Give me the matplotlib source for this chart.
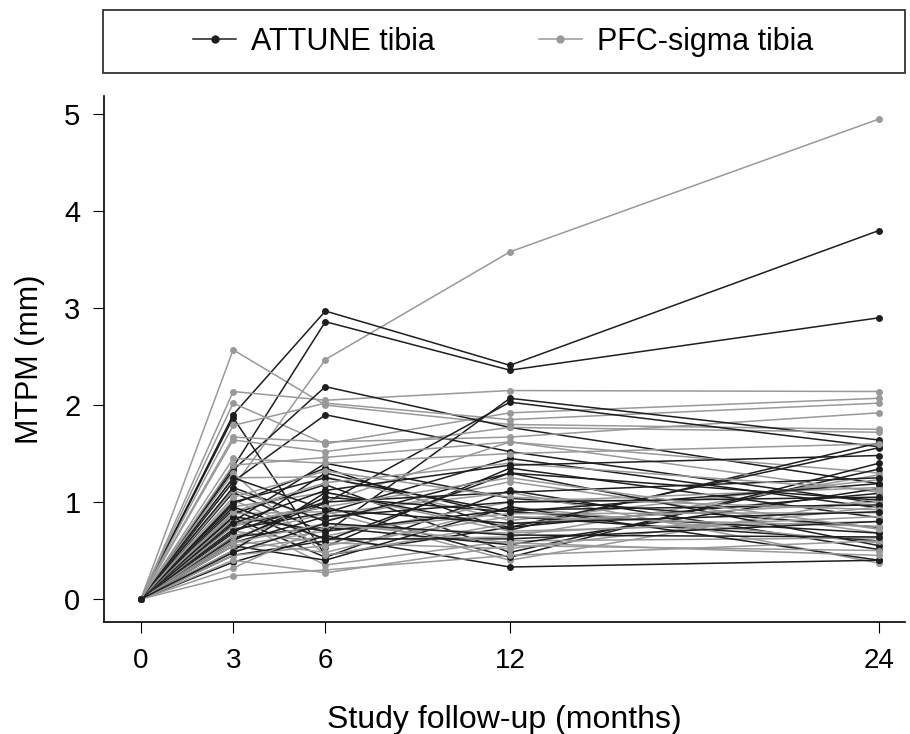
import matplotlib
matplotlib.use("Agg")
import matplotlib.pyplot as plt
from matplotlib.patches import Rectangle
from matplotlib.lines import Line2D

plt.rcParams['font.family'] = ['Liberation Sans', 'DejaVu Sans']

months = [0, 3, 6, 12, 24]
month_labels = ['0', '3', '6', '12', '24']
yticks = [0, 1, 2, 3, 4, 5]

# MTPM (mm) at 3, 6, 12, 24 months, one row per patient (0 at baseline)
attune = [
    [1.90, 2.97, 2.41, 3.80],
    [1.36, 2.86, 2.36, 2.90],
    [1.87, 0.45, 0.74, 1.09],
    [1.33, 2.19, 1.77, 1.19],
    [1.21, 1.90, 1.52, 0.99],
    [1.10, 0.68, 2.07, 1.64],
    [0.62, 0.99, 2.03, 1.57],
    [0.98, 1.35, 0.71, 1.61],
    [0.92, 0.54, 1.35, 0.84],
    [0.88, 1.18, 0.48, 1.34],
    [0.84, 0.43, 1.12, 0.51],
    [0.80, 1.40, 1.04, 0.74],
    [0.76, 0.95, 0.43, 1.40],
    [0.72, 0.89, 1.45, 0.94],
    [0.68, 1.30, 0.85, 0.60],
    [0.64, 0.74, 0.56, 1.14],
    [0.60, 1.05, 0.90, 0.68],
    [0.55, 0.40, 0.95, 0.40],
    [0.50, 1.10, 0.74, 1.56],
    [0.45, 0.60, 1.30, 0.55],
    [0.38, 0.65, 0.33, 0.40],
    [1.15, 0.80, 1.30, 1.02],
    [1.00, 1.25, 0.90, 1.19],
    [0.70, 1.00, 1.10, 1.25],
    [0.85, 0.70, 0.92, 0.97],
    [0.95, 0.62, 0.62, 0.80],
    [0.58, 0.85, 1.00, 1.05],
    [1.25, 0.92, 0.78, 0.90],
    [0.78, 1.12, 1.38, 1.48],
    [0.48, 0.78, 0.66, 0.64],
]

pfc = [
    [1.15, 2.47, 3.58, 4.95],
    [2.57, 2.00, 1.80, 1.75],
    [2.14, 2.05, 2.15, 2.14],
    [2.02, 1.60, 1.92, 2.07],
    [1.79, 2.02, 1.85, 2.02],
    [1.67, 1.62, 1.67, 1.92],
    [1.64, 1.52, 1.77, 1.72],
    [1.38, 1.46, 1.62, 1.30],
    [1.25, 1.26, 0.81, 1.23],
    [1.12, 0.81, 1.21, 0.68],
    [1.02, 0.61, 0.64, 1.28],
    [0.95, 1.10, 0.70, 0.80],
    [0.88, 0.90, 0.40, 1.04],
    [0.82, 0.35, 0.60, 0.63],
    [0.75, 1.00, 1.62, 1.10],
    [0.70, 0.58, 0.52, 0.95],
    [0.65, 0.88, 1.10, 0.37],
    [0.60, 0.48, 0.95, 0.58],
    [0.55, 0.70, 0.88, 0.89],
    [0.50, 0.65, 1.00, 1.15],
    [0.45, 0.55, 0.85, 0.75],
    [0.40, 0.27, 0.55, 0.50],
    [0.32, 0.75, 0.68, 0.85],
    [0.24, 0.30, 0.45, 0.60],
    [1.30, 0.45, 0.78, 1.00],
    [0.90, 1.20, 1.40, 1.12],
    [1.05, 1.32, 1.05, 0.92],
    [0.78, 0.95, 1.25, 0.72],
    [0.58, 0.78, 0.58, 0.45],
    [1.45, 1.40, 1.50, 1.60],
]

black = '#1e1e1e'
grey = '#999999'

fig = plt.figure(figsize=(9.1, 7.34), dpi=100)
ax = fig.add_axes([0.1143, 0.1526, 0.8802, 0.7164])

for a, p in zip(attune, pfc):
    ax.plot(months, [0] + p, color=grey, lw=1.1, marker='o', ms=5, mew=0)
    ax.plot(months, [0] + a, color=black, lw=1.1, marker='o', ms=5, mew=0)

ax.set_xlim(-1.2, 24.85)
ax.set_ylim(-0.237, 5.186)
ax.set_xticks(months)
ax.set_xticklabels(month_labels)
ax.set_yticks(yticks)
ax.spines['top'].set_visible(False)
ax.spines['right'].set_visible(False)
for s in ['left', 'bottom']:
    ax.spines[s].set_linewidth(1.2)
ax.tick_params(direction='out', length=8, width=0.8, labelsize=21, pad=9)
ax.tick_params(axis='x', labelsize=20, pad=11)
ax.set_xlabel('Study follow-up (months)', fontsize=23, labelpad=22)
ax.set_ylabel('MTPM (mm)', fontsize=22, labelpad=14)

# legend box across the top
fig.patches.append(Rectangle((0.113, 0.9005), 0.8815, 0.0855, transform=fig.transFigure,
                             fill=False, edgecolor='#333333', lw=1.3))
handles = [Line2D([], [], color=black, lw=1.1, marker='o', ms=6, mew=0),
           Line2D([], [], color=grey, lw=1.1, marker='o', ms=6, mew=0)]
fig.legend(handles, ['ATTUNE tibia', 'PFC-sigma tibia'], loc='center',
           bbox_to_anchor=(0.553, 0.943), ncol=2, frameon=False, fontsize=22,
           handlelength=1.4, columnspacing=3.4, handletextpad=0.5)

fig.savefig('out.png', dpi=100)
